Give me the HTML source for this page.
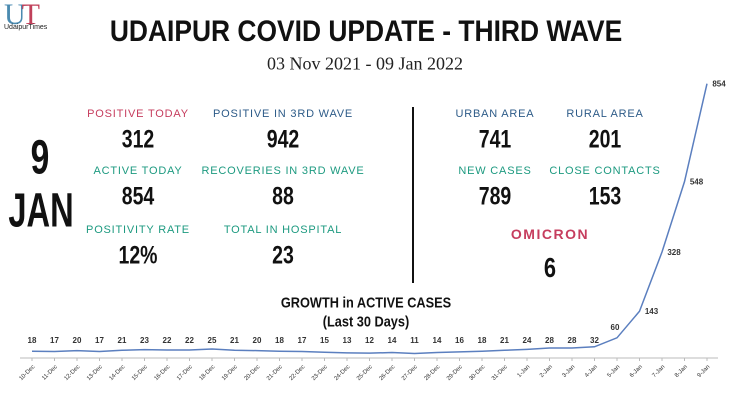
<!DOCTYPE html>
<html><head><style>
body{margin:0;width:730px;height:420px;background:#fff;position:relative;overflow:hidden;font-family:"Liberation Sans",sans-serif}
.a{position:absolute;transform:translate(-50%,-50%);white-space:nowrap}
.l{font-size:11px;letter-spacing:0.8px}
.n{font-size:25px;font-weight:bold;color:#111;transform:translate(-50%,-50%) scaleX(0.78)}
.r{color:#c63d5e}.b{color:#2d5b88}.t{color:#1d9a80}
</style></head><body>
<div style="position:absolute;left:4px;top:0px;font-family:'Liberation Serif',serif;font-size:30px;line-height:30px;"><span style="color:#4a8ab0">U</span><span style="color:#c0405a;margin-left:-4px">T</span></div>
<div style="position:absolute;left:4px;top:24px;font-size:7px;color:#222">UdaipurTimes</div>
<div class="a" style="left:366px;top:32px;font-size:30px;font-weight:bold;color:#111;transform:translate(-50%,-50%) scaleX(0.88)">UDAIPUR COVID UPDATE - THIRD WAVE</div>
<div class="a" style="left:365px;top:64px;font-family:'Liberation Serif',serif;font-size:18px;color:#222">03 Nov 2021 - 09 Jan 2022</div>

<div class="a n" style="left:40px;top:158px;font-size:48px;transform:translate(-50%,-50%) scaleX(0.7)">9</div>
<div class="a n" style="left:41px;top:211px;font-size:48px;transform:translate(-50%,-50%) scaleX(0.68)">JAN</div>

<div class="a l r" style="left:138px;top:114px">POSITIVE TODAY</div>
<div class="a n" style="left:138px;top:140px">312</div>
<div class="a l b" style="left:283px;top:114px">POSITIVE IN 3RD WAVE</div>
<div class="a n" style="left:283px;top:140px">942</div>
<div class="a l t" style="left:138px;top:171px">ACTIVE TODAY</div>
<div class="a n" style="left:138px;top:197px">854</div>
<div class="a l t" style="left:283px;top:171px">RECOVERIES IN 3RD WAVE</div>
<div class="a n" style="left:283px;top:197px">88</div>
<div class="a l t" style="left:138px;top:230px">POSITIVITY RATE</div>
<div class="a n" style="left:138px;top:256px">12%</div>
<div class="a l t" style="left:283px;top:230px">TOTAL IN HOSPITAL</div>
<div class="a n" style="left:283px;top:256px">23</div>

<div style="position:absolute;left:412px;top:107px;width:2px;height:176px;background:#111"></div>

<div class="a l b" style="left:495px;top:114px">URBAN AREA</div>
<div class="a n" style="left:495px;top:140px">741</div>
<div class="a l b" style="left:605px;top:114px">RURAL AREA</div>
<div class="a n" style="left:605px;top:140px">201</div>
<div class="a l t" style="left:495px;top:171px">NEW CASES</div>
<div class="a n" style="left:495px;top:197px">789</div>
<div class="a l t" style="left:605px;top:171px">CLOSE CONTACTS</div>
<div class="a n" style="left:605px;top:197px">153</div>
<div class="a r" style="left:550px;top:234px;font-size:14px;letter-spacing:1.5px;font-weight:bold">OMICRON</div>
<div class="a n" style="left:550px;top:268px;font-size:28px">6</div>

<div class="a" style="left:366px;top:303px;font-size:15px;font-weight:bold;color:#111;transform:translate(-50%,-50%) scaleX(0.85)">GROWTH in ACTIVE CASES</div>
<div class="a" style="left:366px;top:322px;font-size:15px;font-weight:bold;color:#111;transform:translate(-50%,-50%) scaleX(0.85)">(Last 30 Days)</div>

<svg id="c" width="730" height="420" style="position:absolute;left:0;top:0"></svg>
<script>
var v=[18,17,20,17,21,23,22,22,25,21,20,18,17,15,13,12,14,11,14,16,18,21,24,28,28,32,60,143,328,548,854];
var d=["10-Dec","11-Dec","12-Dec","13-Dec","14-Dec","15-Dec","16-Dec","17-Dec","18-Dec","19-Dec","20-Dec","21-Dec","22-Dec","23-Dec","24-Dec","25-Dec","26-Dec","27-Dec","28-Dec","29-Dec","30-Dec","31-Dec","1-Jan","2-Jan","3-Jan","4-Jan","5-Jan","6-Jan","7-Jan","8-Jan","9-Jan"];
var s='<line x1="20" y1="358" x2="718" y2="358" stroke="#bbb" stroke-width="1"/>';
var p=[];
for(var i=0;i<31;i++){var x=32+i*22.5,y=357-v[i]*0.32;p.push(x+","+y);
s+='<line x1="'+x+'" y1="358" x2="'+x+'" y2="361" stroke="#bbb"/>';
var lx=x,ly=y-8;
if(i>=26){lx=x+12;ly=y+3;} if(i==26){lx=x-2;ly=y-8}
if(i<26){ly=343;}
s+='<text x="'+lx+'" y="'+ly+'" font-size="8" font-weight="bold" fill="#333" text-anchor="middle" font-family="Liberation Sans">'+v[i]+'</text>';
s+='<text transform="translate('+(x+3)+',367) rotate(-45)" font-size="6" fill="#333" text-anchor="end" font-family="Liberation Sans">'+d[i]+'</text>';}
s+='<polyline points="'+p.join(" ")+'" fill="none" stroke="#5b7fbf" stroke-width="1.5"/>';
document.getElementById("c").innerHTML=s;
</script>
</body></html>
